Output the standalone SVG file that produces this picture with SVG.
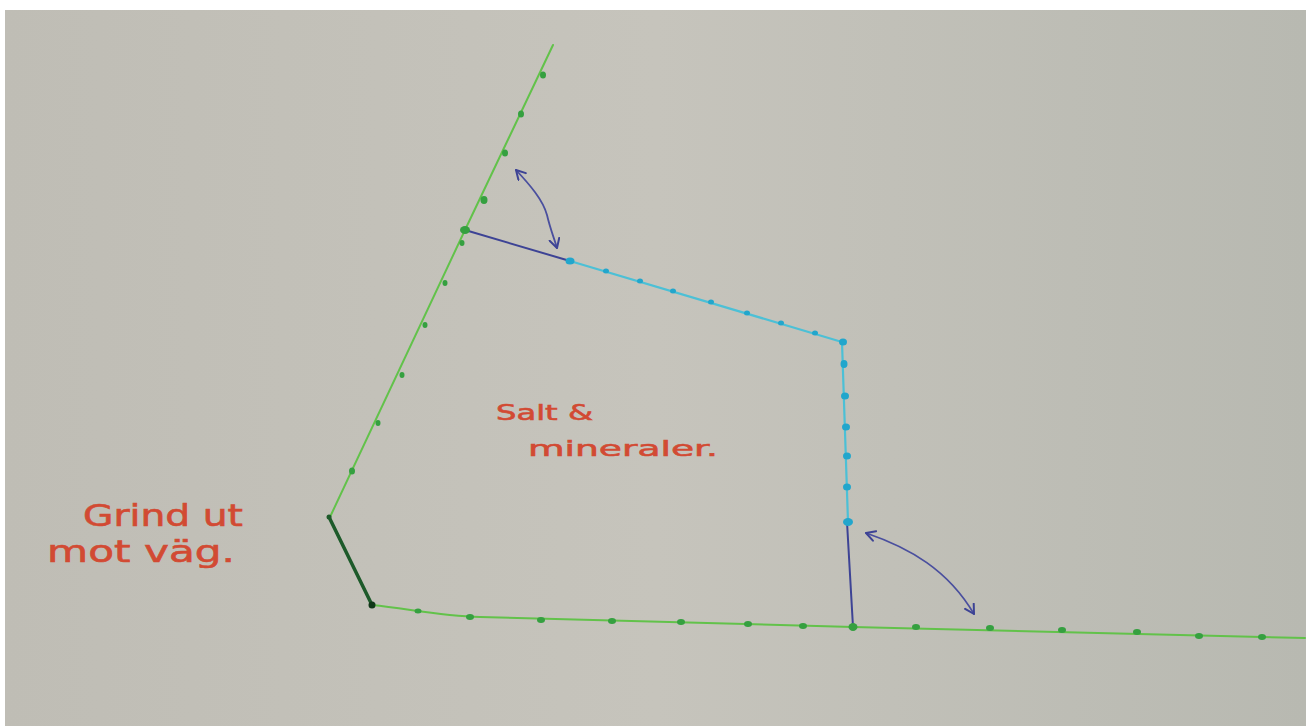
<svg xmlns="http://www.w3.org/2000/svg" width="1310" height="726" viewBox="0 0 1310 726">
<defs>
<linearGradient id="bg" x1="0" y1="0" x2="1" y2="0">
<stop offset="0" stop-color="#bfbdb5"/>
<stop offset="0.5" stop-color="#c6c4bc"/>
<stop offset="1" stop-color="#b8b9b1"/>
</linearGradient>
<marker id="ah" viewBox="0 0 12 12" refX="10" refY="6" markerWidth="12" markerHeight="12" markerUnits="userSpaceOnUse" orient="auto-start-reverse">
<path d="M1,1 L10,6 L1,11" fill="none" stroke="#3d4395" stroke-width="2" stroke-linecap="round" stroke-linejoin="round"/>
</marker>
<style>
.g{fill:none;stroke:#62c24a;stroke-width:2;stroke-linecap:round}
.gd{fill:#35a040}
.dk{fill:none;stroke:#1d5a2a;stroke-width:3.5;stroke-linecap:round}
.b{fill:none;stroke:#3d4395;stroke-width:2;stroke-linecap:round}
.c{fill:none;stroke:#4cc0d6;stroke-width:2.2;stroke-linecap:round}
.cd{fill:#22a6cc}
.arr{fill:none;stroke:#4a4f9e;stroke-width:1.8;stroke-linecap:round}
.t{fill:#d24a33;stroke:#d24a33;stroke-width:0.6;font-family:"DejaVu Sans",sans-serif;font-weight:normal}
</style>
</defs>
<rect x="0" y="0" width="1310" height="726" fill="#ffffff"/>
<rect x="5" y="10" width="1301" height="716" fill="url(#bg)"/>

<g id="connectors">
<path id="fence-left" class="g" d="M553,45 L465,230 L330,517"/>
<path id="gate" class="dk" d="M329,517 L372,605"/>
<path id="fence-bottom" class="g" d="M372,605 C410,609 440,616 480,617 L853,627 L1305,638"/>
<path id="blue-top" class="b" d="M465,230 L570,261"/>
<path id="cyan-top" class="c" d="M570,261 L842,342 L848,522"/>
<path id="blue-vert" class="b" d="M847,522 L853,627"/>
<path id="arrow-top" class="arr" d="M516,170 C530,185 543,200 547,215 C550,228 554,238 557,248" marker-start="url(#ah)" marker-end="url(#ah)"/>
<path id="arrow-bottom" class="arr" d="M866,533 C910,548 948,570 974,614" marker-start="url(#ah)" marker-end="url(#ah)"/>
</g>

<g id="green-dots">
<ellipse class="gd" cx="543" cy="75" rx="3" ry="3.5"/>
<ellipse class="gd" cx="521" cy="114" rx="3" ry="3.5"/>
<ellipse class="gd" cx="505" cy="153" rx="3" ry="3.5"/>
<ellipse class="gd" cx="484" cy="200" rx="3.5" ry="4"/>
<ellipse class="gd" cx="465" cy="230" rx="5" ry="4"/>
<ellipse class="gd" cx="462" cy="243" rx="2.5" ry="3"/>
<ellipse class="gd" cx="445" cy="283" rx="2.5" ry="3"/>
<ellipse class="gd" cx="425" cy="325" rx="2.5" ry="3"/>
<ellipse class="gd" cx="402" cy="375" rx="2.5" ry="3"/>
<ellipse class="gd" cx="378" cy="423" rx="2.5" ry="3"/>
<ellipse class="gd" cx="352" cy="471" rx="3" ry="3.5"/>
<ellipse class="gd" cx="418" cy="611" rx="3.5" ry="2.5"/>
<ellipse class="gd" cx="470" cy="617" rx="4" ry="3"/>
<ellipse class="gd" cx="541" cy="620" rx="4" ry="3"/>
<ellipse class="gd" cx="612" cy="621" rx="4" ry="3"/>
<ellipse class="gd" cx="681" cy="622" rx="4" ry="3"/>
<ellipse class="gd" cx="748" cy="624" rx="4" ry="3"/>
<ellipse class="gd" cx="803" cy="626" rx="4" ry="3"/>
<ellipse class="gd" cx="853" cy="627" rx="4.5" ry="4"/>
<ellipse class="gd" cx="916" cy="627" rx="4" ry="3"/>
<ellipse class="gd" cx="990" cy="628" rx="4" ry="3"/>
<ellipse class="gd" cx="1062" cy="630" rx="4" ry="3"/>
<ellipse class="gd" cx="1137" cy="632" rx="4" ry="3"/>
<ellipse class="gd" cx="1199" cy="636" rx="4" ry="3"/>
<ellipse class="gd" cx="1262" cy="637" rx="4" ry="3"/>
<circle cx="372" cy="605" r="3.5" fill="#103818"/>
<circle cx="329" cy="517" r="2.5" fill="#1d5a2a"/>
</g>

<g id="cyan-dots">
<ellipse class="cd" cx="570" cy="261" rx="4.5" ry="3.5"/>
<ellipse class="cd" cx="606" cy="271" rx="3" ry="2.5"/>
<ellipse class="cd" cx="640" cy="281" rx="3" ry="2.5"/>
<ellipse class="cd" cx="673" cy="291" rx="3" ry="2.5"/>
<ellipse class="cd" cx="711" cy="302" rx="3" ry="2.5"/>
<ellipse class="cd" cx="747" cy="313" rx="3" ry="2.5"/>
<ellipse class="cd" cx="781" cy="323" rx="3" ry="2.5"/>
<ellipse class="cd" cx="815" cy="333" rx="3" ry="2.5"/>
<ellipse class="cd" cx="843" cy="342" rx="4" ry="3.5"/>
<ellipse class="cd" cx="844" cy="364" rx="3.5" ry="4"/>
<ellipse class="cd" cx="845" cy="396" rx="4" ry="3.5"/>
<ellipse class="cd" cx="846" cy="427" rx="4" ry="3.5"/>
<ellipse class="cd" cx="847" cy="456" rx="4" ry="3.5"/>
<ellipse class="cd" cx="847" cy="487" rx="4" ry="3.5"/>
<ellipse class="cd" cx="848" cy="522" rx="5" ry="4"/>
</g>

<g id="label-gate">
<text class="t" x="83" y="526" font-size="30" textLength="160" lengthAdjust="spacingAndGlyphs">Grind ut</text>
<text class="t" x="47" y="562" font-size="30" textLength="188" lengthAdjust="spacingAndGlyphs">mot väg.</text>
</g>
<g id="label-area">
<text class="t" x="496" y="420" font-size="22" textLength="97" lengthAdjust="spacingAndGlyphs">Salt &amp;</text>
<text class="t" x="528" y="456" font-size="22" textLength="190" lengthAdjust="spacingAndGlyphs">mineraler.</text>
</g>
</svg>
